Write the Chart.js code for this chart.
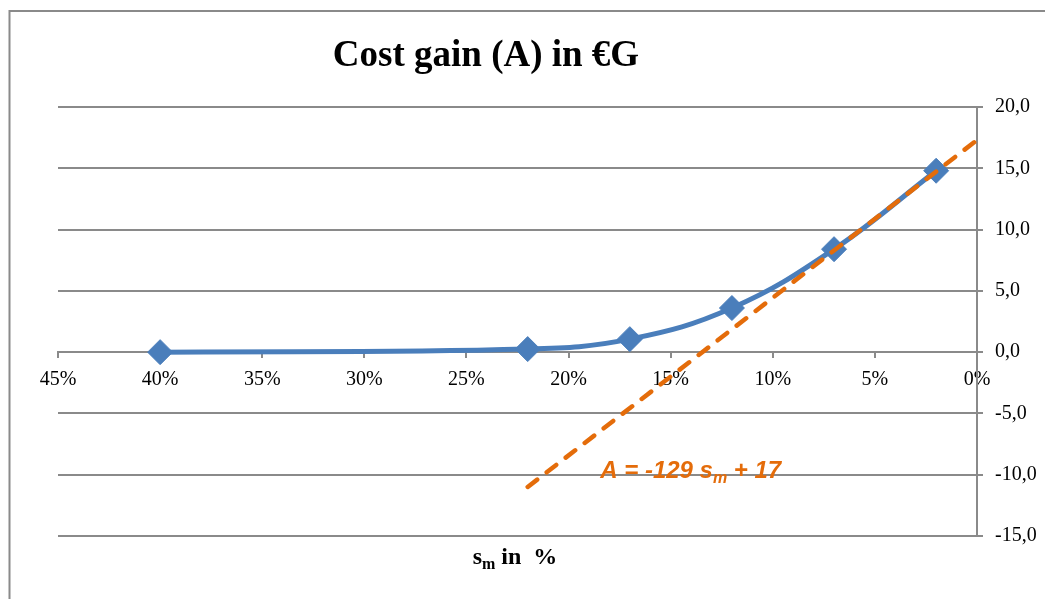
<!DOCTYPE html>
<html>
<head>
<meta charset="utf-8">
<script src="https://cdn.jsdelivr.net/npm/chart.js@4.4.1/dist/chart.umd.min.js"></script>
<style>
html,body{margin:0;padding:0;background:#fff;overflow:hidden}
#wrap{width:1045px;height:599px;position:relative}
</style>
</head>
<body>
<div id="wrap"><canvas id="c" width="1045" height="599"></canvas></div>
<script>
// ---- data ----
const smPercent = [40, 22, 17, 12, 7, 2];          // s_m in %
const costGain  = [0.0, 0.25, 1.06, 3.6, 8.4, 14.8]; // A in €G
const trendSm   = [22, 0];                         // trend line s_m ends (%)
const trendGain = [-11.0, 17.3];                   // trend line A values
const xTickStep = 5;   // %
const yTickStep = 5;   // €G
const chartTitle = 'Cost gain (A) in €G';
const axisTitleParts = ['s', 'm', ' in  %'];
const equationParts  = ['A = -129 s', 'm', ' + 17'];
const equationAnchor = { x: 18.45, y: -10.3 }; // where the equation label sits (data units)

const GRID = '#8a8a8a';
const BLUE = '#4A7EBB';
const ORANGE = '#E46C0A';

const decor = {
  id: 'decor',
  beforeDraw(chart) {
    const ctx = chart.ctx;
    ctx.save();
    ctx.strokeStyle = GRID;
    ctx.lineWidth = 2;
    ctx.beginPath();
    ctx.moveTo(9.5, 700);
    ctx.lineTo(9.5, 11);
    ctx.lineTo(1100, 11);
    ctx.stroke();
    ctx.restore();
  },
  afterDraw(chart) {
    const ctx = chart.ctx;
    ctx.save();
    // title
    ctx.fillStyle = '#000';
    ctx.font = 'bold 37px "Liberation Serif"';
    ctx.textAlign = 'center';
    ctx.textBaseline = 'alphabetic';
    ctx.fillText(chartTitle, 486, 66);

    const drawSub = (parts, cx, left, baseline, bigFont, smallFont, subDrop, color) => {
      ctx.fillStyle = color;
      ctx.textAlign = 'left';
      ctx.font = bigFont; const w0 = ctx.measureText(parts[0]).width;
      ctx.font = smallFont; const w1 = ctx.measureText(parts[1]).width;
      ctx.font = bigFont; const w2 = ctx.measureText(parts[2]).width;
      let x = (cx !== null) ? cx - (w0 + w1 + w2) / 2 : left;
      ctx.font = bigFont; ctx.fillText(parts[0], x, baseline); x += w0;
      ctx.font = smallFont; ctx.fillText(parts[1], x, baseline + subDrop); x += w1;
      ctx.font = bigFont; ctx.fillText(parts[2], x, baseline);
    };
    // axis title
    drawSub(axisTitleParts, 515, null, 564, 'bold 24px "Liberation Serif"', 'bold 16px "Liberation Serif"', 5, '#000');

    // trend equation
    const xs = chart.scales.x, ys = chart.scales.y;
    drawSub(equationParts, null, xs.getPixelForValue(equationAnchor.x), ys.getPixelForValue(equationAnchor.y),
      'italic bold 24px "Liberation Sans"', 'italic bold 16px "Liberation Sans"', 5, ORANGE);
    ctx.restore();
  }
};

new Chart(document.getElementById('c'), {
  type: 'scatter',
  data: {
    datasets: [
      {
        label: 'Trend',
        data: trendSm.map((x, i) => ({ x, y: trendGain[i] })),
        showLine: true,
        borderColor: ORANGE,
        borderWidth: 4.5,
        borderDash: [12, 12],
        borderCapStyle: 'round',
        pointRadius: 0,
        fill: false,
        order: 0
      },
      {
        label: 'Cost gain',
        data: smPercent.map((x, i) => ({ x, y: costGain[i] })),
        showLine: true,
        borderColor: BLUE,
        backgroundColor: BLUE,
        borderWidth: 5,
        tension: 0.4,
        pointStyle: 'rectRot',
        pointRadius: 12.5,
        pointBorderWidth: 1,
        pointBackgroundColor: BLUE,
        pointBorderColor: BLUE,
        fill: false,
        order: 1
      }
    ]
  },
  options: {
    responsive: false,
    animation: false,
    devicePixelRatio: 1,
    layout: { padding: { left: 58, top: 107, right: 0, bottom: 63 } },
    plugins: {
      legend: { display: false },
      title: { display: false },
      tooltip: { enabled: false }
    },
    scales: {
      x: {
        type: 'linear',
        reverse: true,
        min: 0,
        max: 45,
        position: { y: 0 },
        afterFit: s => { s.height = 0; },
        grid: { display: true, drawOnChartArea: false, drawTicks: true, tickLength: 5, color: GRID, lineWidth: 2 },
        border: { display: true, color: GRID, width: 2 },
        ticks: {
          stepSize: xTickStep, padding: 11, color: '#000', maxRotation: 0, autoSkip: false,
          font: { family: 'Liberation Serif', size: 20 },
          callback: v => v + '%'
        }
      },
      y: {
        type: 'linear',
        position: 'right',
        min: -15,
        max: 20,
        afterFit: s => { s.width = 68; },
        grid: { color: GRID, lineWidth: 2, drawTicks: true, tickLength: 6 },
        border: { display: true, color: GRID, width: 2 },
        ticks: {
          stepSize: yTickStep, padding: 12, color: '#000',
          font: { family: 'Liberation Serif', size: 20 },
          callback: v => v.toFixed(1).replace('.', ',')
        }
      }
    }
  },
  plugins: [decor]
});
</script>
</body>
</html>
